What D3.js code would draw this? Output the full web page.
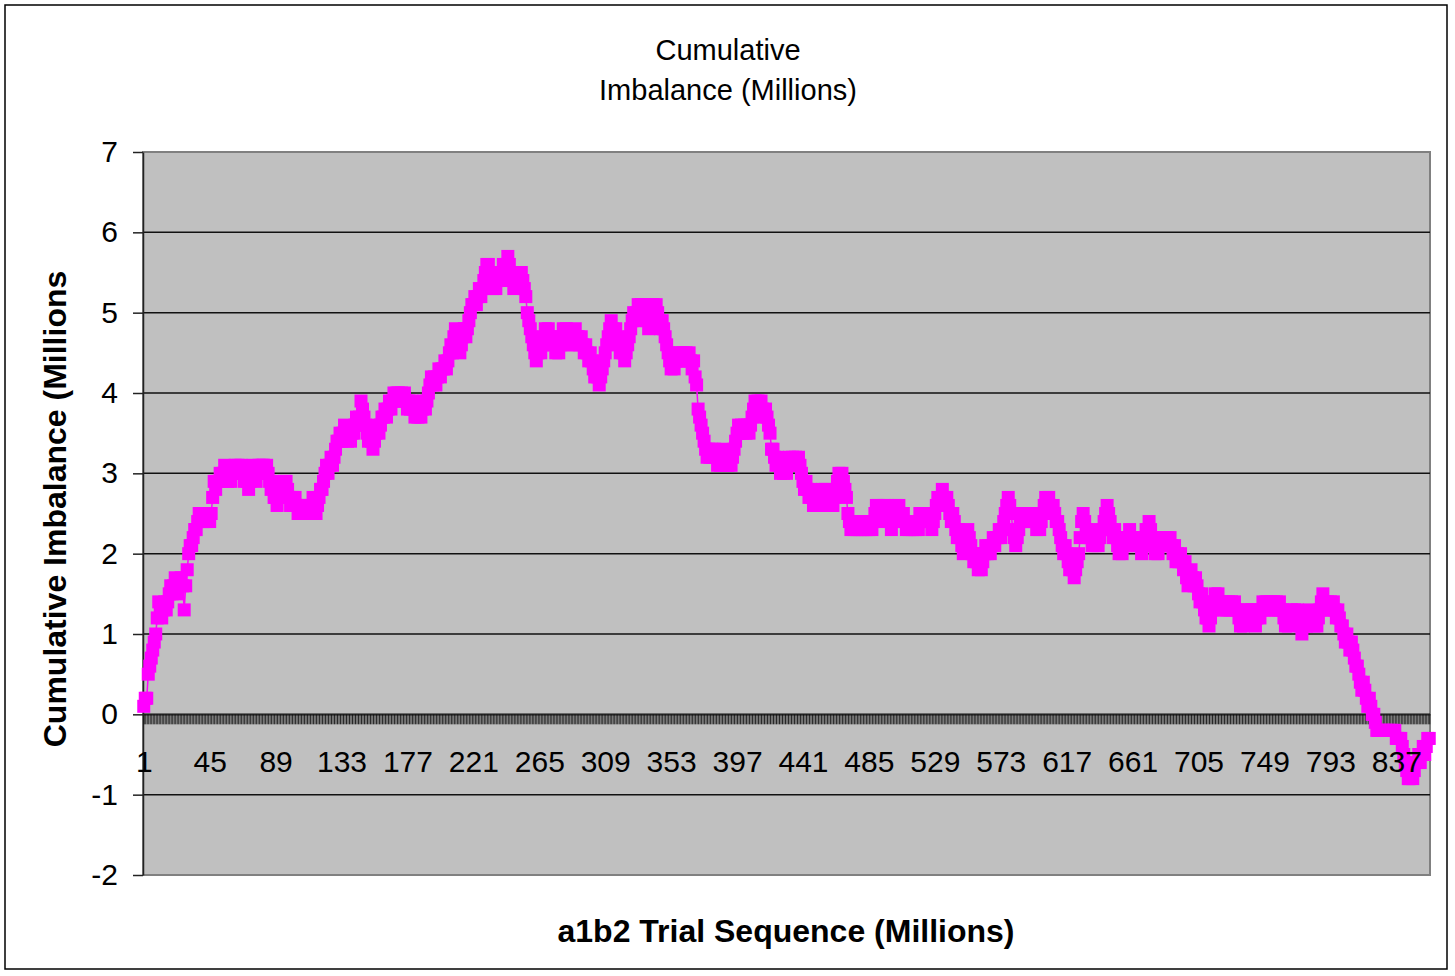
<!DOCTYPE html>
<html>
<head>
<meta charset="utf-8">
<title>Cumulative Imbalance</title>
<script src="https://cdn.jsdelivr.net/npm/d3@7"></script>
<style>
  body { margin: 0; background: #fff; }
  svg { display: block; font-family: "Liberation Sans", Arial, sans-serif; }
</style>
</head>
<body>
<svg width="1455" height="976"></svg>
<script>
// DATA
// cumulative imbalance for each trial, in tenths of a million
const imbalanceTenths = [
  1,2,2,5,6,7,8,9,10,12, 14,13,12,13,14,13,14,15,16,15, 16,17,16,15,16,17,16,13,16,18,
  20,21,21,22,23,23,24,25,25,24, 24,25,24,25,24,25,27,29,28,29, 29,30,29,30,31,30,29,30,29,30,
  30,31,30,31,30,31,30,29,30,29, 28,29,30,31,30,29,30,31,30,31, 31,30,31,30,29,28,29,27,27,26,
  27,28,27,28,29,29,28,27,26,27, 26,27,26,25,26,25,26,25,26,25, 26,25,26,27,26,25,26,27,28,28,
  29,30,31,30,31,32,31,32,33,34, 34,35,34,35,36,35,34,35,34,35, 35,36,37,36,37,39,38,37,36,35,
  34,35,34,33,34,35,36,35,36,37, 37,38,37,38,39,38,39,40,39,40, 40,39,40,39,40,39,38,39,38,39,
  38,37,38,37,38,37,38,39,38,39, 40,41,42,41,42,41,42,43,42,43, 43,44,43,44,45,46,45,47,48,47,
  46,45,46,47,48,47,48,49,50,51, 51,52,51,52,53,52,53,54,55,56, 56,55,54,53,54,53,54,55,54,55,
  56,55,56,57,56,55,54,53,54,55, 54,55,55,54,53,52,50,49,48,47, 46,45,44,45,46,45,46,47,48,47,
  48,47,46,47,46,45,46,45,46,47, 48,47,48,47,46,47,46,47,48,47, 47,46,47,46,45,46,45,44,45,44,
  43,42,43,42,41,42,43,44,45,46, 47,48,49,48,47,48,47,46,45,46, 45,44,45,46,47,48,49,50,49,50,
  51,50,51,50,51,50,49,48,49,50, 51,50,51,50,49,48,49,48,47,46, 45,44,43,44,43,44,45,44,45,44,
  45,44,45,44,45,44,43,44,42,41, 38,37,36,35,34,33,32,33,32,33, 32,33,32,31,32,31,32,33,32,31,
  31,32,31,32,33,34,35,36,35,36, 35,36,35,36,35,36,37,38,39,38, 39,38,39,38,37,38,37,36,35,33,
  33,32,31,32,31,30,31,30,31,30, 31,32,31,32,31,32,31,32,31,30, 29,28,29,28,27,28,27,26,27,26,
  27,26,27,28,27,28,27,26,27,26, 26,27,28,29,30,29,30,29,28,27, 25,24,23,24,23,24,23,24,23,24,
  23,24,23,24,23,24,23,24,25,26, 26,25,24,25,26,25,26,25,24,23, 24,25,26,25,26,25,24,25,24,23,
  24,23,24,23,24,23,24,23,25,24, 25,24,25,24,25,24,23,24,25,26, 27,26,27,28,27,26,27,26,25,24,
  25,24,23,22,23,22,21,20,21,22, 23,22,21,20,19,20,19,18,19,18, 19,20,21,20,21,20,21,22,21,22,
  22,23,22,23,24,25,26,27,26,25, 23,22,21,22,23,24,25,24,25,24, 25,24,25,24,25,24,23,24,23,24,
  25,26,27,26,27,26,25,26,25,24, 24,23,22,21,20,21,20,19,18,19, 18,17,18,19,20,22,24,25,24,23,
  22,23,22,21,22,21,22,21,22,23, 23,24,25,26,25,24,23,22,23,22, 21,20,21,20,21,22,21,22,23,22,
  22,21,22,21,22,21,20,21,22,23, 23,24,23,22,21,20,21,20,21,22, 21,22,21,22,21,22,21,20,21,19,
  20,19,20,19,18,19,17,16,17,18, 17,16,17,16,15,14,15,14,13,12, 12,11,12,13,14,15,14,15,14,13,
  14,13,14,13,14,13,14,13,14,13, 13,12,11,12,11,12,13,12,13,13, 13,12,11,12,13,12,13,14,13,14,
  14,13,14,13,14,13,14,13,14,13, 13,12,11,12,11,12,13,12,13,12, 13,12,11,10,11,12,11,12,13,12,
  12,11,12,11,12,13,14,15,14,13, 14,13,14,13,14,13,12,13,12,11, 11,10,9,10,9,8,9,8,7,6,
  6,5,4,3,4,3,2,1,2,1, 0,0,-1,-2,-2,-2,-2,-2,-2,-2, -2,-2,-2,-2,-2,-2,-3,-3,-3,-3,
  -4,-5,-6,-7,-8,-8,-7,-8,-7,-6, -6,-5,-6,-5,-4,-5,-4,-3,-3
];
const tickLabels = [1, 45, 89, 133, 177, 221, 265, 309, 353, 397, 441, 485, 529, 573, 617, 661, 705, 749, 793, 837];
const yTicks = [-2, -1, 0, 1, 2, 3, 4, 5, 6, 7];
const titleLines = ["Cumulative", "Imbalance (Millions)"];
const yTitle = "Cumulative Imbalance (Millions";
const xTitle = "a1b2 Trial Sequence (Millions)";

const trials = imbalanceTenths.map((d, i) => i + 1);
const data = imbalanceTenths.map((d, i) => ({ trial: i + 1, value: d / 10 }));

// SETUP
const svg = d3.select("svg");
const plot = { left: 143, top: 152, right: 1430, bottom: 875 };

const xScale = d3.scalePoint().domain(trials).range([plot.left, plot.right]).padding(0.5);
const yScale = d3.scaleLinear().domain([-2, 7]).range([plot.bottom, plot.top]);

// outer chart frame
svg.append("rect")
  .attr("x", 5).attr("y", 5)
  .attr("width", 1442).attr("height", 964)
  .attr("fill", "#fff")
  .attr("stroke", "#000")
  .attr("stroke-width", 1.5);

// plot area
svg.append("rect")
  .attr("x", plot.left).attr("y", plot.top)
  .attr("width", plot.right - plot.left)
  .attr("height", plot.bottom - plot.top)
  .attr("fill", "#c0c0c0")
  .attr("stroke", "#808080")
  .attr("stroke-width", 2);

// gridlines
svg.append("g")
  .selectAll("line")
  .data(yTicks.filter((v) => v > -2 && v < 7))
  .join("line")
  .attr("x1", plot.left).attr("x2", plot.right)
  .attr("y1", (d) => yScale(d)).attr("y2", (d) => yScale(d))
  .attr("stroke", "#111")
  .attr("stroke-width", 1.5);

// y axis
const yAxis = d3.axisLeft(yScale)
  .tickValues(yTicks)
  .tickSize(10)
  .tickSizeOuter(0)
  .tickPadding(15)
  .tickFormat((d) => String(d));

const yAxisG = svg.append("g")
  .attr("transform", `translate(${plot.left},0)`)
  .call(yAxis);
yAxisG.selectAll("text").attr("font-size", 30).attr("fill", "#000").attr("font-family", null);
yAxisG.selectAll("line, path").attr("stroke", "#222").attr("stroke-width", 1.5);

// x axis at zero: one tick per trial
const xTicks = d3.axisBottom(xScale)
  .tickValues(trials)
  .tickSize(10)
  .tickSizeOuter(0)
  .tickFormat("");

const xTicksG = svg.append("g")
  .attr("transform", `translate(0,${yScale(0)})`)
  .call(xTicks);
xTicksG.selectAll("line").attr("stroke", "#000").attr("stroke-width", 0.8);
xTicksG.select("path").attr("stroke", "#333").attr("stroke-width", 1.5);

// series line and square markers
const line = d3.line()
  .x((d) => xScale(d.trial))
  .y((d) => yScale(d.value));

svg.append("path")
  .datum(data)
  .attr("d", line)
  .attr("fill", "none")
  .attr("stroke", "#ff00ff")
  .attr("stroke-width", 1.5);

const markerSize = 13;
svg.append("g")
  .selectAll("rect")
  .data(data)
  .join("rect")
  .attr("x", (d) => xScale(d.trial) - markerSize / 2)
  .attr("y", (d) => yScale(d.value) - markerSize / 2)
  .attr("width", markerSize)
  .attr("height", markerSize)
  .attr("fill", "#ff00ff");

// category labels every 44 trials, drawn above the series
const xLabels = d3.axisBottom(xScale)
  .tickValues(tickLabels)
  .tickSize(0)
  .tickPadding(36);

const xLabelsG = svg.append("g")
  .attr("transform", `translate(0,${yScale(0)})`)
  .call(xLabels);
xLabelsG.select("path").remove();
xLabelsG.selectAll("text").attr("font-size", 30).attr("fill", "#000").attr("font-family", null);

// titles
svg.append("g")
  .selectAll("text")
  .data(titleLines)
  .join("text")
  .attr("x", 728)
  .attr("y", (d, i) => 50 + i * 40)
  .attr("dy", "0.35em")
  .attr("text-anchor", "middle")
  .attr("font-size", 29)
  .text((d) => d);

svg.append("text")
  .attr("transform", "translate(55,509) rotate(-90)")
  .attr("dy", "0.35em")
  .attr("text-anchor", "middle")
  .attr("font-size", 32)
  .attr("font-weight", "bold")
  .text(yTitle);

svg.append("text")
  .attr("x", 786)
  .attr("y", 931)
  .attr("dy", "0.35em")
  .attr("text-anchor", "middle")
  .attr("font-size", 32)
  .attr("font-weight", "bold")
  .text(xTitle);
</script>
</body>
</html>
